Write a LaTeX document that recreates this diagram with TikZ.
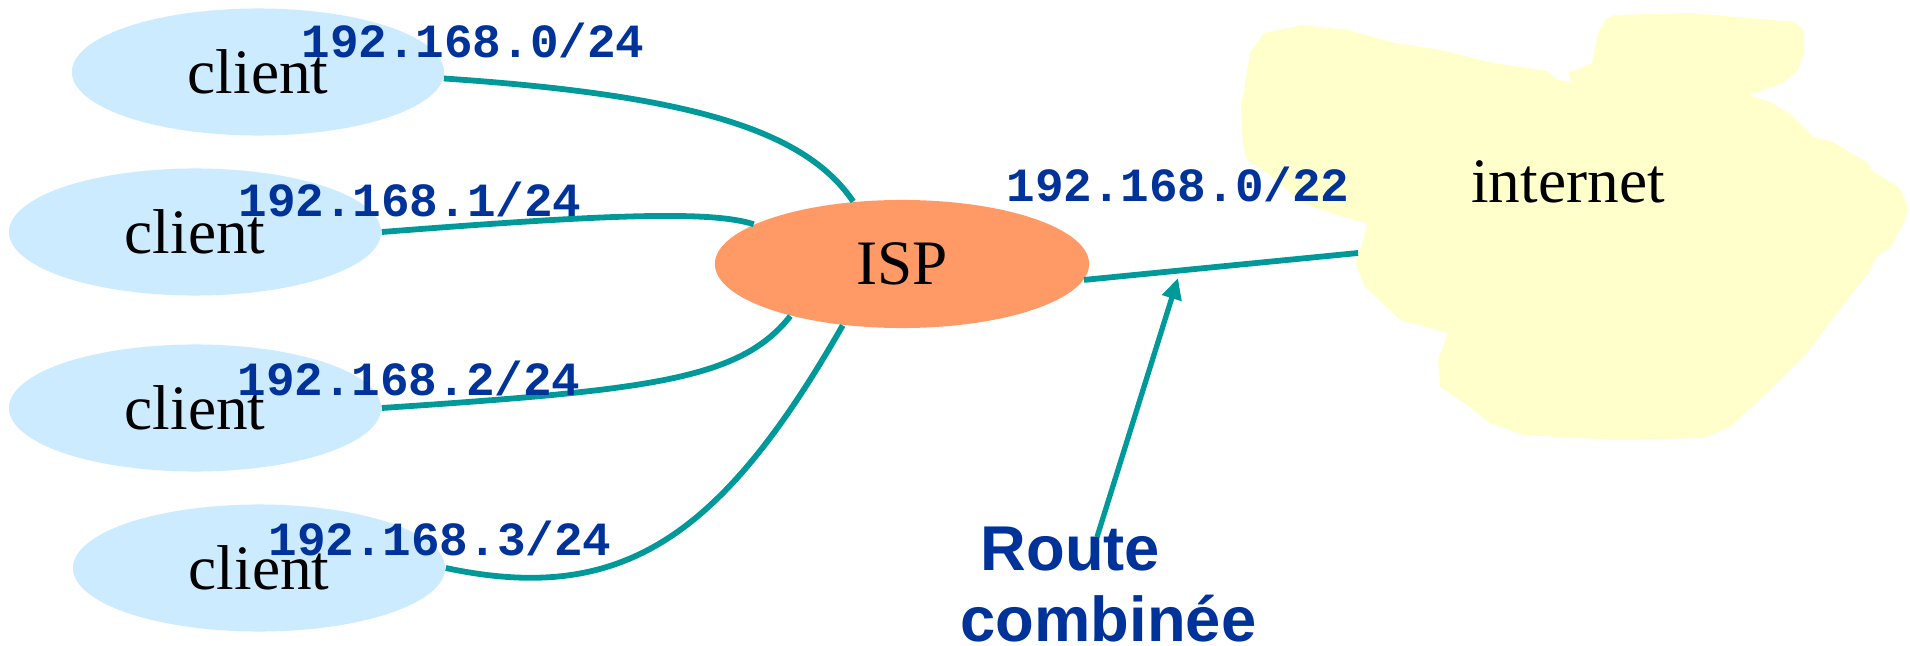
\documentclass[tikz,border=0pt]{standalone}
\usepackage{fontspec}
\setmainfont{Liberation Serif}
\newfontfamily\labelfont{Liberation Mono}
\newfontfamily\routefont{Liberation Sans}
\usetikzlibrary{shapes.geometric,arrows.meta}
\definecolor{clientfill}{HTML}{CCEBFF}
\definecolor{ispfill}{HTML}{FF9966}
\definecolor{cloudfill}{HTML}{FFFFCC}
\definecolor{linkteal}{HTML}{009999}
\definecolor{labelblue}{HTML}{003399}
\begin{document}
\begin{tikzpicture}[x=0.01cm,y=-0.01cm,
  client/.style={ellipse, fill=clientfill, minimum width=3.72cm, minimum height=1.27cm, inner sep=0pt,
    font=\fontsize{18}{20}\selectfont},
  ispnode/.style={ellipse, fill=ispfill, minimum width=3.74cm, minimum height=1.28cm, inner sep=0pt,
    font=\fontsize{18}{20}\selectfont},
  link/.style={draw=linkteal, line width=1.65pt},
  lbl/.style={font=\labelfont\bfseries\fontsize{13.55}{15}\selectfont, text=labelblue, inner sep=0pt, anchor=base},
]
\useasboundingbox (0,0) rectangle (1910,646);

% cloud
\fill[cloudfill] (1264,33) -- (1302,25) -- (1348,30) -- (1395,43) -- (1441,50) -- (1493,63)
  -- (1548,71) -- (1556,79) -- (1572,83) -- (1568,72) -- (1576,70) -- (1592,63)
  -- (1598,33) -- (1607,18) -- (1615,15) -- (1691,13) -- (1795,22) -- (1804,30)
  -- (1804,53) -- (1798,70) -- (1783,83) -- (1749,95) -- (1772,103) -- (1789,113)
  -- (1813,137) -- (1833,142) -- (1868,163) -- (1871,170) -- (1900,188) -- (1908,207)
  -- (1905,220) -- (1891,247) -- (1883,252) -- (1877,257) -- (1867,275) -- (1833,318)
  -- (1807,353) -- (1770,390) -- (1730,427) -- (1703,438) -- (1620,440) -- (1523,435)
  -- (1490,423) -- (1467,405) -- (1440,387) -- (1438,360) -- (1448,333) -- (1400,320)
  -- (1392,312) -- (1365,287) -- (1355,263) -- (1360,250) -- (1367,227) -- (1366,223)
  -- (1337,215) -- (1302,203) -- (1267,173) -- (1247,160) -- (1243,147) -- (1241,107)
  -- (1250,53) -- cycle;
\coordinate (cloudin) at (1358,253);
\node[font=\fontsize{18}{20}\selectfont, inner sep=0pt, anchor=base] (internet) at (1568,203) {internet};

% nodes
\node[client] (c1) at (258,72) {client};
\node[client] (c2) at (195,232) {client};
\node[client] (c3) at (195,408) {client};
\node[client] (c4) at (259,568) {client};
\node[ispnode] (isp) at (902,264) {ISP};

% connectors
\draw[link] (c1.-2) .. controls (690,95) and (805,130) .. (isp.128);
\draw[link] (c2.east) .. controls (600,215) and (710,210) .. (isp.165);
\draw[link] (c3.east) .. controls (650,390) and (740,380) .. (isp.205);
\draw[link] (c4.east) .. controls (620,605) and (720,540) .. (isp.226);
\draw[link] (isp.-5) -- (cloudin);

% labels
\node[lbl] (l1) at (473,58) {192.168.0/24};
\node[lbl] (l2) at (410,217) {192.168.1/24};
\node[lbl] (l3) at (409,395) {192.168.2/24};
\node[lbl] (l4) at (440,555) {192.168.3/24};
\node[lbl] (l5) at (1178,202) {192.168.0/22};

% route combinee
\node[font=\routefont\bfseries\fontsize{18}{20.2}\selectfont, text=labelblue, inner sep=0pt,
  align=left, anchor=north west] (route) at (960,526) {\hspace*{5.7pt}Route\\combinée};
\coordinate (arrstart) at (1097,537);
\coordinate (arrtip) at (1178,278);
\draw[link, line width=1.5pt, -{Triangle[length=6pt,width=5.5pt]}] (arrstart) -- (arrtip);
\end{tikzpicture}
\end{document}
